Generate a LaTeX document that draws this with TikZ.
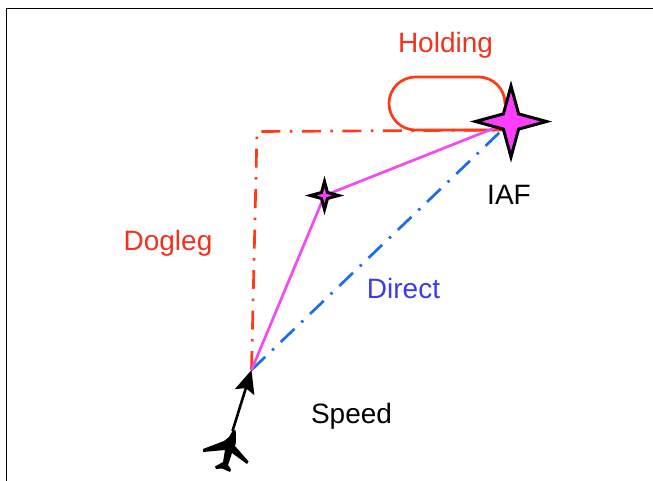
\documentclass[tikz,border=0pt]{standalone}
\usepackage{fontspec}
\setmainfont{Liberation Sans}
\usetikzlibrary{arrows.meta,shapes.geometric,backgrounds}
\definecolor{redline}{HTML}{FF3A17}
\definecolor{redtext}{HTML}{F0321E}
\definecolor{magline}{HTML}{F04DF0}
\definecolor{magfill}{HTML}{FF3DFF}
\definecolor{blueline}{HTML}{1A6EEB}
\definecolor{bluetext}{HTML}{3C3CEB}
\tikzset{
  lab/.style={font=\fontsize{28}{30}\selectfont,inner sep=0pt,anchor=center},
  fix/.style={star,star points=4,draw=black,fill=magfill,inner sep=0pt,line join=miter,miter limit=20},
  dashdot/.style={line width=2.7pt,dash pattern=on 19pt off 9.5pt on 2.5pt off 9.5pt},
  route/.style={magline,line width=2.7pt},
}
\begin{document}
\begin{tikzpicture}[x=1pt,y=-1pt]
\useasboundingbox (0,0) rectangle (653,481);
\draw[black,line width=1.5pt] (6.5,481) -- (6.5,8.5) -- (653,8.5);
% fixes
\node[fix,line width=3pt,minimum size=71pt,star point ratio=3.3] (iaf) at (511,121.5) {};
\node[fix,line width=3pt,minimum size=28pt,star point ratio=3.3] (wp) at (324.5,195.5) {};
\coordinate (turn) at (251.5,370);
\coordinate (corner) at (257,131.5);
\coordinate (nose) at (232.5,431);
% holding pattern anchor
\coordinate (hold) at (505,130);
\begin{scope}[on background layer]
  \draw[redline,line width=2.7pt,rounded corners=26.5pt] (hold) -- (389,130) -- (389,77) -- (505,77) -- (505,104);
  \draw[redline,dashdot] (turn) -- (corner) -- (hold);
  \draw[blueline,dashdot] (turn) -- (iaf.center);
  \draw[route] (turn) -- (wp.center) -- (iaf.center);
\end{scope}
\draw[black,line width=2.6pt,-{Stealth[length=23pt,width=20pt,inset=4pt]}] (nose) -- (turn);
% aircraft
\fill[black] (nose) -- (235.5,430) .. controls (236.5,438) and (236,444) .. (235,446)
  -- (248.5,461.5) -- (247,464) -- (232,453) -- (228,465) -- (231,469.5) -- (230,472) -- (222,468.5)
  -- (216,469) -- (215,466.5) -- (223,462) -- (225,450)
  -- (203,452) -- (203,449) -- (224,441) -- (229,437) -- cycle;
% labels
\node[lab,text=redtext] (holding) at (445.5,45) {Holding};
\node[lab,text=redtext] (dogleg) at (168,243.5) {Dogleg};
\node[lab,text=bluetext] (direct) at (403.5,288) {Direct};
\node[lab,text=black] (iaflabel) at (509,195) {IAF};
\node[lab,text=black] (speed) at (351.5,416) {Speed};
\end{tikzpicture}
\end{document}
